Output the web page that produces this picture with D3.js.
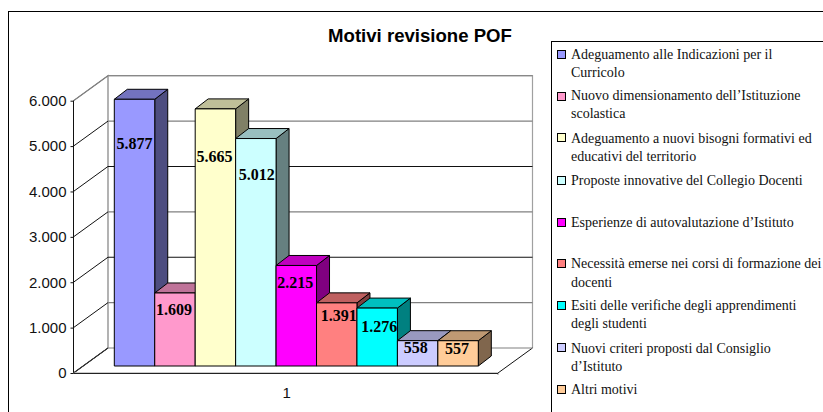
<!DOCTYPE html>
<html><head><meta charset="utf-8">
<script src="https://cdn.jsdelivr.net/npm/d3@7"></script>
<style>html,body{margin:0;padding:0;background:#fff;overflow:hidden}svg{display:block}</style>
</head><body><svg id="c" width="823" height="412"></svg>
<script>
const chartTitle = "Motivi revisione POF";
const category = "1";
const seriesValues = [5877,1609,5665,5012,2215,1391,1276,558,557];
const seriesColors = ["#9999FF","#FF99CC","#FFFFCC","#CCFFFF","#FF00FF","#FF8080","#00FFFF","#CCCCFF","#FFCC99"];
const seriesNames = [
 ["Adeguamento alle Indicazioni per il","Curricolo"],
 ["Nuovo dimensionamento dell’Istituzione","scolastica"],
 ["Adeguamento a nuovi bisogni formativi ed","educativi del territorio"],
 ["Proposte innovative del Collegio Docenti"],
 ["Esperienze di autovalutazione d’Istituto"],
 ["Necessità emerse nei corsi di formazione dei","docenti"],
 ["Esiti delle verifiche degli apprendimenti","degli studenti"],
 ["Nuovi criteri proposti dal Consiglio","d’Istituto"],
 ["Altri motivi"]
];
const axisTicks = [0,1000,2000,3000,4000,5000,6000];

// layout
const legendSwatchY = [54,95.7,137,180,221.7,262.7,305,346.7,389];
const legendLineY = [[58.5,76.5],[100,118],[142.5,160.5],[184.5],[226.5],[268,286.5],[309.5,327.5],[352.5,370.5],[393.5]];
const labelCenterY = [144,310,157,175,283,316,327,348,349];
const labelDx = [0,-1,-1,1,-1,2,2,-2,-1];
const gridShade = ["#808080","#808080","#111","#808080","#111","#808080","#808080"];
const diagShade = ["#333","#111","#111","#111","#111","#111","#808080"];
const frontX = 73.5, frontRight = 498, depthX = 34.5, depthY = -25;
const barInsetY = -7, barDepthX = 13, barDepthY = -10;

const svg = d3.select("#c");
const y = d3.scaleLinear().domain([0,6000]).range([373,100.7]);
const x = d3.scaleBand().domain(seriesValues.map((d,i)=>i)).range([114.3,478.3]);
const fmt = v => v>=1000 ? d3.format(",")(v).replace(/,/g,".") : String(v);
const shade = (c,k)=>{const r=d3.rgb(c);return d3.rgb(r.r*k,r.g*k,r.b*k).formatHex();};

// frames
svg.append("rect").attr("x",8.5).attr("y",11.5).attr("width",830).attr("height",420)
  .attr("fill","#fff").attr("stroke","#000");
svg.append("rect").attr("x",551.5).attr("y",41.5).attr("width",290).attr("height",390)
  .attr("fill","#fff").attr("stroke","#000");

// title
svg.append("text").attr("x",420).attr("y",42).attr("text-anchor","middle")
  .attr("font-family","Liberation Sans").attr("font-weight","bold").attr("font-size",18.6).attr("fill","#000").text(chartTitle);

// walls
const plot = svg.append("g");
plot.append("path").attr("fill","#fff").attr("stroke","#808080").attr("stroke-width",1.2)
  .attr("d",`M${frontX},${y(0)}L${frontX+depthX},${y(0)+depthY}L${frontX+depthX},${y(6000)+depthY}L${frontX},${y(6000)}`);
plot.append("path").attr("fill","#fff").attr("stroke","#a0a0a0").attr("stroke-width",1.2)
  .attr("d",`M${frontX+depthX},${y(6000)+depthY}H${frontRight+depthX}V${y(0)+depthY}`);
// floor
plot.append("path").attr("fill","#fff").attr("stroke","#111").attr("stroke-width",1)
  .attr("d",`M${frontX+depthX},${y(0)+depthY}L${frontX},${y(0)}M${frontRight},${y(0)}L${frontRight+depthX},${y(0)+depthY}`);
// gridlines
axisTicks.forEach((t,i)=>{
  plot.append("line").attr("x1",frontX+depthX).attr("x2",frontRight+depthX).attr("y1",y(t)+depthY).attr("y2",y(t)+depthY)
    .attr("stroke",gridShade[i]).attr("stroke-width",1.1);
  plot.append("line").attr("x1",frontX).attr("x2",frontX+depthX).attr("y1",y(t)).attr("y2",y(t)+depthY)
    .attr("stroke",diagShade[i]).attr("stroke-width",1);
});

// axes
const ax = svg.append("g").attr("transform",`translate(${frontX},0)`)
  .call(d3.axisLeft(y).tickValues(axisTicks).tickFormat(fmt).tickSize(3).tickPadding(4));
ax.select(".domain").attr("stroke","#111").attr("d",`M0,${y(6000)}V${y(0)}`);
ax.selectAll(".tick line").attr("stroke","#111");
ax.selectAll("text").attr("font-family","Liberation Sans").attr("font-size",15).attr("fill","#111");
const xBase = d3.scaleBand().domain([category]).range([frontX,frontRight]);
const ax2 = svg.append("g").attr("transform",`translate(1,${y(0)})`)
  .call(d3.axisBottom(xBase).tickSize(0).tickPadding(14));
ax2.select(".domain").attr("stroke","#999").attr("d",`M${frontX-1},0H${frontRight-1}V2`);
ax2.selectAll("text").attr("font-family","Liberation Sans").attr("font-size",15).attr("fill","#111");
svg.append("line").attr("x1",frontX).attr("x2",frontRight).attr("y1",y(0)+0.5).attr("y2",y(0)+0.5).attr("stroke","#222");

// bars
const bars = svg.append("g").selectAll("g").data(seriesValues).join("g");
bars.each(function(v,i){
  const g=d3.select(this), x0=x(i), w=x.bandwidth(), yt=y(v)+barInsetY, yb=y(0)+barInsetY, c=seriesColors[i];
  const st={stroke:"#000","stroke-width":1,"stroke-linejoin":"round"};
  const add=(d,f)=>{const p=g.append("path").attr("d",d).attr("fill",f);Object.entries(st).forEach(([k,s])=>p.attr(k,s));};
  add(`M${x0+w},${yb}L${x0+w+barDepthX},${yb+barDepthY}V${yt+barDepthY}L${x0+w},${yt}Z`,shade(c,.5));
  add(`M${x0},${yt}L${x0+barDepthX},${yt+barDepthY}H${x0+w+barDepthX}L${x0+w},${yt}Z`,shade(c,.75));
  add(`M${x0},${yt}H${x0+w}V${yb}H${x0}Z`,c);
});
// value labels
svg.append("g").selectAll("text").data(seriesValues).join("text")
  .attr("x",(d,i)=>x(i)+x.bandwidth()/2+labelDx[i]).attr("y",(d,i)=>labelCenterY[i]+5)
  .attr("text-anchor","middle").attr("font-family","Liberation Serif").attr("font-weight","bold")
  .attr("font-size",16).attr("fill","#000").text(fmt);

// legend
const leg = svg.append("g").selectAll("g").data(seriesNames).join("g");
leg.append("rect").attr("x",557.5).attr("y",(d,i)=>Math.round(legendSwatchY[i]-4)+.5).attr("width",8).attr("height",8)
  .attr("fill",(d,i)=>seriesColors[i]).attr("stroke","#000");
leg.each(function(lines,i){
  d3.select(this).selectAll("text").data(lines).join("text")
    .attr("x",571).attr("y",(d,j)=>legendLineY[i][j])
    .attr("font-family","Liberation Serif").attr("font-size",14).attr("fill","#111").text(d=>d);
});
</script></body></html>
